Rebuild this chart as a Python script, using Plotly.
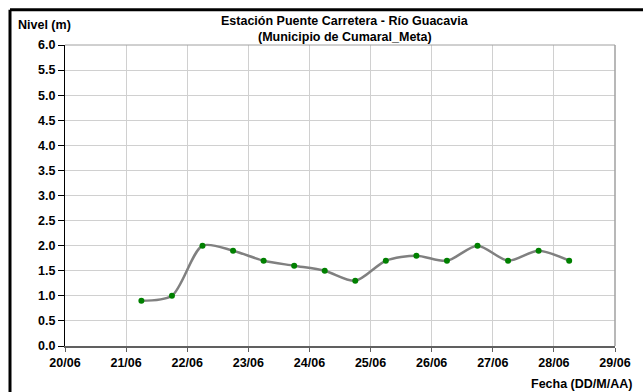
import plotly.graph_objects as go

# Lecturas cada 12 h (06:00 y 18:00)
fechas = [
    "2023-06-21 06:00", "2023-06-21 18:00",
    "2023-06-22 06:00", "2023-06-22 18:00",
    "2023-06-23 06:00", "2023-06-23 18:00",
    "2023-06-24 06:00", "2023-06-24 18:00",
    "2023-06-25 06:00", "2023-06-25 18:00",
    "2023-06-26 06:00", "2023-06-26 18:00",
    "2023-06-27 06:00", "2023-06-27 18:00",
    "2023-06-28 06:00",
]
nivel = [0.9, 1.0, 2.0, 1.9, 1.7, 1.6, 1.5, 1.3, 1.7, 1.8, 1.7, 2.0, 1.7, 1.9, 1.7]
dias = ["2023-06-%02d" % d for d in range(20, 30)]

FONT = "Liberation Sans, Arial, sans-serif"
FS = 12.5

fig = go.Figure()
fig.add_scatter(
    x=fechas, y=nivel,
    mode="lines+markers",
    line=dict(color="#808080", width=2.5, shape="spline", smoothing=0.8),
    marker=dict(color="#008000", size=6),
    showlegend=False,
)

fig.update_layout(
    width=643, height=392,
    margin=dict(l=65, r=20, t=45, b=46),
    plot_bgcolor="white", paper_bgcolor="white",
    font=dict(family=FONT, size=FS, color="black"),
    xaxis=dict(
        range=[dias[0], dias[-1]],
        tickvals=dias,
        tickformat="<b>%d/%m</b>",
        showgrid=True, gridcolor="#d0d0d0", gridwidth=1,
        showline=True, linecolor="#606060", linewidth=1.5,
        ticks="outside", ticklen=4, tickcolor="#606060",
        tickfont=dict(family=FONT, size=FS, color="black"),
        zeroline=False,
    ),
    yaxis=dict(
        range=[0, 6], dtick=0.5, tickformat=".1f",
        tickprefix="<b>", ticksuffix="</b>",
        showgrid=True, gridcolor="#d0d0d0", gridwidth=1,
        showline=True, linecolor="black", linewidth=1,
        ticks="outside", ticklen=6, tickcolor="black",
        tickfont=dict(family=FONT, size=FS, color="black"),
        zeroline=False,
    ),
    annotations=[
        dict(text="<b>Estación Puente Carretera - Río Guacavia</b>",
             xref="paper", yref="paper", x=0.509, y=1.080,
             xanchor="center", yanchor="middle", showarrow=False,
             font=dict(family=FONT, size=FS)),
        dict(text="<b>(Municipio de Cumaral_Meta)</b>",
             xref="paper", yref="paper", x=0.509, y=1.028,
             xanchor="center", yanchor="middle", showarrow=False,
             font=dict(family=FONT, size=FS)),
        dict(text="<b>Nivel (m)</b>", xref="paper", yref="paper",
             x=-0.038, y=1.066, xanchor="center", yanchor="middle",
             showarrow=False, font=dict(family=FONT, size=FS)),
        dict(text="<b>Fecha (DD/M/AA)</b>", xref="paper", yref="paper",
             x=1.034, y=-0.126, xanchor="right", yanchor="middle",
             showarrow=False, font=dict(family=FONT, size=FS)),
    ],
    shapes=[
        # borde del área de trazado (superior y derecho gris)
        dict(type="line", xref="paper", yref="paper", x0=0, x1=1, y0=1, y1=1,
             line=dict(color="#a0a0a0", width=1)),
        dict(type="line", xref="paper", yref="paper", x0=1, x1=1, y0=0, y1=1,
             line=dict(color="#a0a0a0", width=1.5)),
        # marco exterior: lados izquierdo y superior
        dict(type="line", xref="paper", yref="paper",
             x0=-0.1, x1=-0.1, y0=-0.2, y1=1.117,
             line=dict(color="black", width=3)),
        dict(type="line", xref="paper", yref="paper",
             x0=-0.1, x1=1.1, y0=1.117, y1=1.117,
             line=dict(color="black", width=3)),
    ],
)

fig.write_html("out.html", config={"displayModeBar": False},
               post_script="document.body.style.margin='0';")
